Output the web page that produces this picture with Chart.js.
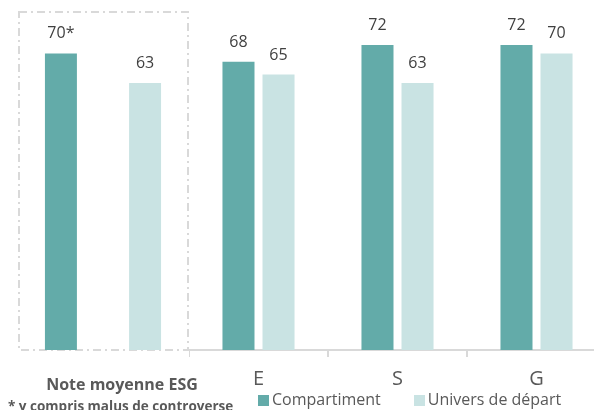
<!DOCTYPE html>
<html>
<head>
<meta charset="utf-8">
<script src="https://cdn.jsdelivr.net/npm/chart.js@4.4.1/dist/chart.umd.min.js"></script>
<style>
  body { margin: 0; background: #fff; font-family: "Open Sans", sans-serif; }
  #wrap { position: relative; width: 594px; height: 410px; overflow: hidden; }
  .box { position: absolute; top: 0; height: 410px; }
  #note { left: 18px; width: 200px; }
  #pillars { left: 189px; width: 417px; }
  #legend { position: absolute; left: 258px; top: 388px; display: flex; color: #595959; font-size: 16px; white-space: nowrap; }
  #legend span.sw { display: inline-block; width: 11px; height: 11px; margin-right: 3px; vertical-align: -1px; }
  #legend .item { margin-right: 33px; }
  #foot { position: absolute; left: 8px; top: 397px; font-size: 13.5px; font-weight: bold; color: #595959; white-space: nowrap; }
</style>
</head>
<body>
<div id="wrap">
  <div class="box" id="note"><canvas id="noteChart"></canvas></div>
  <div class="box" id="pillars"><canvas id="pillarChart"></canvas></div>
  <div id="legend"></div>
  <div id="foot"></div>
</div>
<script>
// data
const noteCategory = ['Note moyenne ESG'];
const noteCompartiment = [70];
const noteUnivers = [63];
const categories = ['E', 'S', 'G'];
const compartiment = [68, 72, 72];
const univers = [65, 63, 70];
const seriesNames = ['Compartiment', 'Univers de départ'];
const footnote = '* y compris malus de controverse';

const darkColor = '#63aba9';
const lightColor = '#c9e3e3';
const textColor = '#595959';
const font = '"Open Sans", sans-serif';

// value labels on top of bars
const valueLabels = {
    id: 'valueLabels',
    afterDatasetsDraw(chart) {
        const ctx = chart.ctx;
        ctx.save();
        ctx.font = '16px ' + font;
        ctx.fillStyle = '#404040';
        ctx.textAlign = 'center';
        ctx.textBaseline = 'alphabetic';
        chart.data.datasets.forEach(function(ds, i) {
            const meta = chart.getDatasetMeta(i);
            meta.data.forEach(function(bar, j) {
                ctx.fillText(ds.data[j] + (ds.mark || ''), bar.x, bar.y - 15);
            });
        });
        ctx.restore();
    }
};

// dash-dot frame round the first block
const frame = {
    id: 'frame',
    beforeDatasetsDraw(chart) {
        const a = chart.chartArea;
        const ctx = chart.ctx;
        ctx.save();
        ctx.strokeStyle = '#d9d9d9';
        ctx.lineWidth = 2;
        ctx.setLineDash([8, 4, 2, 4]);
        ctx.strokeRect(a.left + 1, a.top + 1, a.right - a.left - 1, a.bottom - a.top - 1);
        ctx.restore();
    }
};

// fixed axis height, no extra side padding for wide labels
function fixHeight(scale) {
    scale.height = 60;
    scale.paddingLeft = 0;
    scale.paddingRight = 0;
}

new Chart(document.getElementById('noteChart'), {
    type: 'bar',
    data: {
        labels: noteCategory,
        datasets: [
            { label: seriesNames[0], data: noteCompartiment, mark: '*', backgroundColor: darkColor },
            { label: seriesNames[1], data: noteUnivers, backgroundColor: lightColor }
        ]
    },
    options: {
        responsive: true,
        maintainAspectRatio: false,
        animation: false,
        layout: { padding: { top: 11, left: 0, right: 30, bottom: 0 } },
        categoryPercentage: 0.99,
        barPercentage: 0.38,
        plugins: { legend: { display: false }, tooltip: { enabled: false } },
        scales: {
            x: {
                afterFit: fixHeight,
                grid: { display: false },
                border: { display: false },
                ticks: { color: textColor, font: { family: font, size: 16, weight: 'bold' }, padding: 18, labelOffset: 19 }
            },
            y: { display: false, min: 0, max: 80 }
        }
    },
    plugins: [frame, valueLabels]
});

new Chart(document.getElementById('pillarChart'), {
    type: 'bar',
    data: {
        labels: categories,
        datasets: [
            { label: seriesNames[0], data: compartiment, backgroundColor: darkColor },
            { label: seriesNames[1], data: univers, backgroundColor: lightColor }
        ]
    },
    options: {
        responsive: true,
        maintainAspectRatio: false,
        animation: false,
        layout: { padding: { top: 11, left: 0, right: 0, bottom: 0 } },
        categoryPercentage: 0.576,
        barPercentage: 0.8,
        plugins: { legend: { display: false }, tooltip: { enabled: false } },
        scales: {
            x: {
                afterFit: fixHeight,
                grid: { drawOnChartArea: false, color: '#d9d9d9', lineWidth: 2, tickLength: 7 },
                border: { color: '#d9d9d9', width: 2 },
                ticks: { color: textColor, font: { family: font, size: 20 }, padding: 10 }
            },
            y: { display: false, min: 0, max: 80 }
        }
    },
    plugins: [valueLabels]
});

// legend
const legend = document.getElementById('legend');
[darkColor, lightColor].forEach(function(c, i) {
    const item = document.createElement('div');
    item.className = 'item';
    item.innerHTML = '<span class="sw" style="background:' + c + '"></span>' + seriesNames[i];
    legend.appendChild(item);
});
document.getElementById('foot').textContent = footnote;
</script>
</body>
</html>
